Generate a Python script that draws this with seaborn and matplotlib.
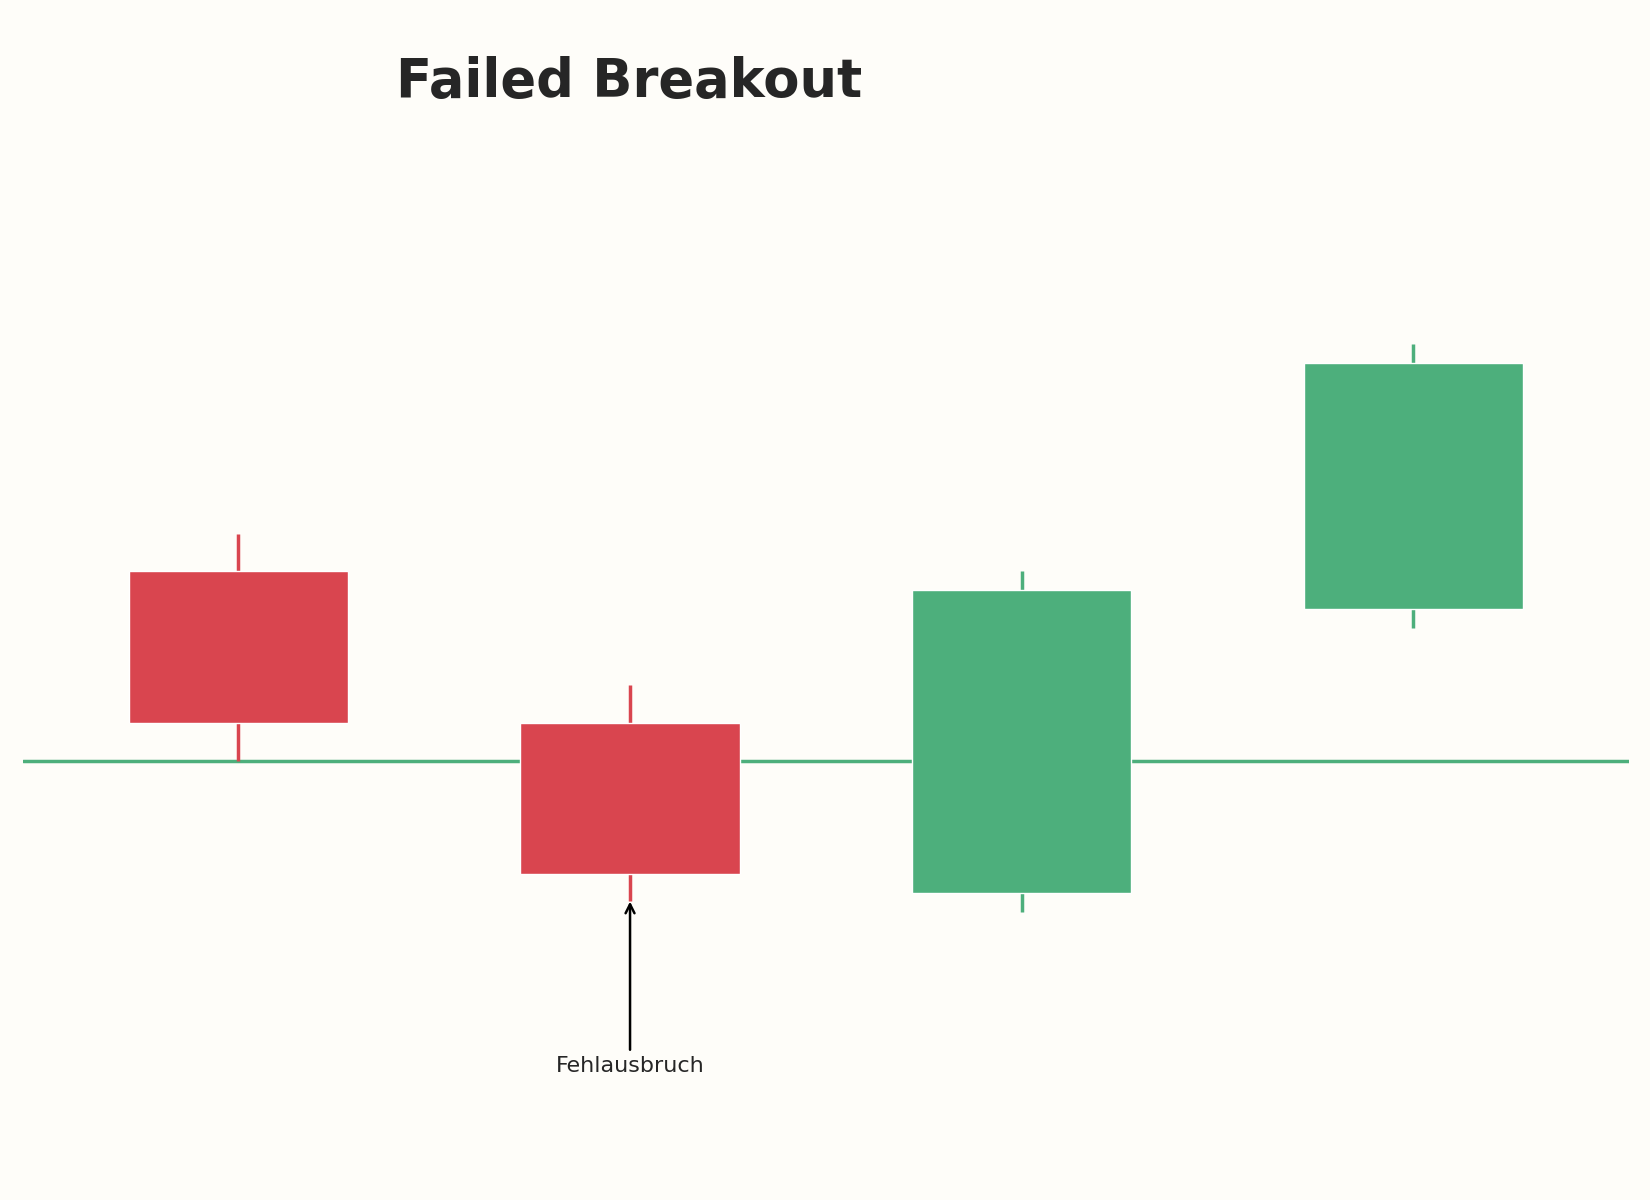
import matplotlib
matplotlib.use("Agg")
import matplotlib.pyplot as plt
import seaborn as sns
import numpy as np

idx = [0, 1, 2, 3]
opens = [105.0, 101.0, 96.5, 104.0]
closes = [101.0, 97.0, 104.5, 110.5]
highs = [106.0, 102.0, 105.0, 111.0]
lows = [100.0, 96.3, 96.0, 103.5]
support = 100.0
title = "Failed Breakout"
note = "Fehlausbruch"

RED = "#d9454f"
GREEN = "#4daf7c"
BG = "#fefdf9"

sns.set_theme(style="white")
plt.rcParams['font.family'] = ['DejaVu Sans']

fig = plt.figure(figsize=(16.5, 12), dpi=100, facecolor=BG)
ax = fig.add_axes([0.014, 0.035, 0.973, 0.842])
ax.set_facecolor(BG)

ax.axhline(support, color=GREEN, lw=2.5, zorder=1)
for i, o, c, h, l in zip(idx, opens, closes, highs, lows):
    col = GREEN if c >= o else RED
    ax.vlines(i, l, h, color=col, lw=2.5, zorder=2)
    ax.bar(i, abs(c - o), bottom=min(o, c), width=0.56, color=col, zorder=3)

ax.annotate(note, xy=(1, 96.35), xytext=(1, 92.2), ha="center", va="top",
            fontsize=16, arrowprops=dict(arrowstyle="->", color="black", lw=1.8))

ax.set_xlim(-0.55, 3.55)
ax.set_ylim(89.5, 116.2)
ax.axis("off")
fig.text(0.381, 0.932, title, ha="center", va="center", fontsize=38, fontweight="bold")
fig.savefig("out.png", dpi=100, facecolor=BG)
